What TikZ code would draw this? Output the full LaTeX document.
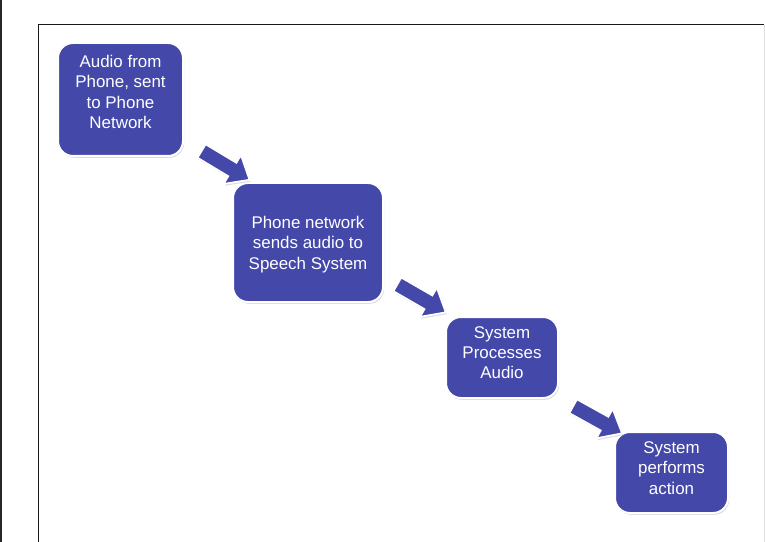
\documentclass[tikz,border=0pt]{standalone}
\usepackage{fontspec}
\setmainfont{Liberation Sans}
\usetikzlibrary{shapes.arrows,shadows,calc}
\newlength\pxu
\setlength\pxu{0.75pt}
\definecolor{boxblue}{RGB}{67,72,169}
\definecolor{framegray}{RGB}{222,222,222}
\begin{document}
\begin{tikzpicture}[x=0.75pt,y=-0.75pt,
  stepbox/.style={rectangle, rounded corners=15\pxu, fill=boxblue, draw=white,
    line width=2\pxu, inner sep=0pt,
    drop shadow={shadow xshift=1.2\pxu, shadow yshift=-1.8\pxu, opacity=0.3, fill=black!45}},
  txt/.style={text=white, align=center, inner sep=0pt,
    font=\fontsize{12.7pt}{15.2pt}\selectfont},
  blockarrow/.style={single arrow, fill=boxblue, draw=white, line width=1.8\pxu,
    minimum height=56\pxu, minimum width=32\pxu, inner sep=7\pxu,
    single arrow head extend=9\pxu, single arrow tip angle=80,
    drop shadow={shadow xshift=1.2\pxu, shadow yshift=-1.8\pxu, opacity=0.3, fill=black!45}}
]
\useasboundingbox (0,0) rectangle (765,542);
\fill[white] (0,0) rectangle (765,542);
% left dark strip and frame
\fill[black!85] (0,0) rectangle (2,542);
\draw[framegray, line width=1.2\pxu] (764.4,25) -- (764.4,542);
\draw[black!90, line width=1.4\pxu] (38.7,542) -- (38.7,24.6) -- (764,24.6);

% boxes
\node[stepbox, minimum width=125\pxu, minimum height=113\pxu] (b1) at (120.5,99.5) {};
\node[stepbox, minimum width=150\pxu, minimum height=119\pxu] (b2) at (308,242.5) {};
\node[stepbox, minimum width=112\pxu, minimum height=81\pxu] (b3) at (502,357.5) {};
\node[stepbox, minimum width=113\pxu, minimum height=81\pxu] (b4) at (671.5,472.5) {};

% texts
\node[txt] (t1) at ($(b1.center)+(0,-7.5)$) {Audio from\\Phone, sent\\to Phone\\Network};
\node[txt] (t2) at ($(b2.center)+(0,2)$) {Phone network\\sends audio to\\Speech System};
\node[txt] (t3) at ($(b3.center)+(0,-5)$) {System\\Processes\\Audio};
\node[txt] (t4) at ($(b4.center)+(0,-4.5)$) {System\\performs\\action};

% block arrows
\node[blockarrow, rotate=-31] (a1) at (221.5,163) {};
\node[blockarrow, rotate=-30] (a2) at (417.5,296) {};
\node[blockarrow, rotate=-29] (a3) at (593.5,417.5) {};
\end{tikzpicture}
\end{document}
